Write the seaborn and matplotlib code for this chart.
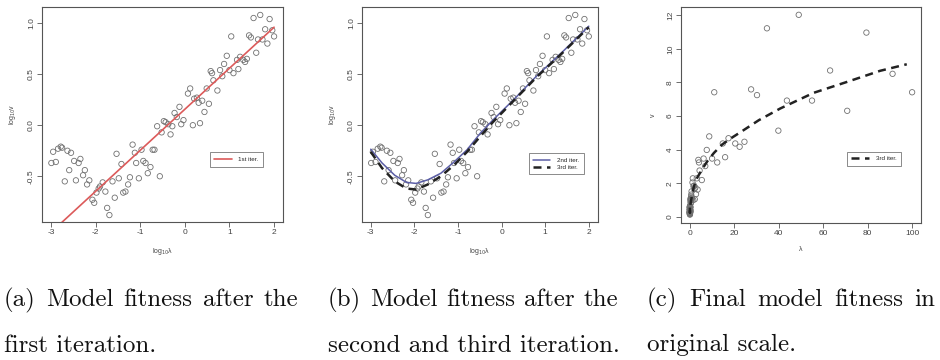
import matplotlib
matplotlib.use('Agg')

import matplotlib.pyplot as plt
import seaborn as sns
import pandas as pd
import numpy as np

# observations on log10 scale (same points in all three panels)
log_lam = [-2.99, -2.89, -2.95, -2.84, -2.78, -2.75, -2.69, -2.63, -2.55, -2.59,
           -2.48, -2.44, -2.38, -2.34, -2.28, -2.24, -2.19, -2.14, -2.07, -2.03,
           -1.98, -1.93, -1.90, -1.84, -1.78, -1.74, -1.69, -1.62, -1.57, -1.53,
           -1.48, -1.42, -1.38, -1.33, -1.27, -1.23, -1.17, -1.12, -1.09, -1.03,
           -0.97, -0.93, -0.88, -0.83, -0.77, -0.72, -0.68, -0.62, -0.56, -0.52,
           -0.47, -0.43, -0.37, -0.32, -0.28, -0.23, -0.18, -0.12, -0.08, -0.03,
           0.07, 0.12, 0.18, 0.21, 0.27, 0.31, 0.34, 0.39, 0.44, 0.49,
           0.54, 0.58, 0.61, 0.64, 0.73, 0.79, 0.84, 0.88, 0.94, 1.00,
           1.04, 1.09, 1.17, 1.20, 1.24, 1.31, 1.35, 1.39, 1.44, 1.48,
           1.54, 1.60, 1.64, 1.69, 1.74, 1.80, 1.85, 1.90, 1.96, 2.00]
log_v = [-0.37, -0.36, -0.26, -0.23, -0.21, -0.22, -0.55, -0.25, -0.27, -0.44,
         -0.35, -0.54, -0.37, -0.33, -0.49, -0.44, -0.58, -0.54, -0.73, -0.76,
         -0.66, -0.62, -0.60, -0.56, -0.65, -0.81, -0.88, -0.55, -0.71, -0.28,
         -0.52, -0.38, -0.66, -0.65, -0.58, -0.51, -0.19, -0.27, -0.37, -0.52,
         -0.24, -0.35, -0.37, -0.47, -0.41, -0.24, -0.24, -0.01, -0.50, -0.07,
         0.04, 0.03, 0.01, -0.09, -0.01, 0.12, 0.08, 0.18, 0.01, 0.05,
         0.31, 0.36, 0.00, 0.26, 0.27, 0.22, 0.02, 0.24, 0.13, 0.36,
         0.21, 0.53, 0.51, 0.44, 0.34, 0.54, 0.48, 0.60, 0.68, 0.54,
         0.87, 0.51, 0.64, 0.55, 0.67, 0.64, 0.62, 0.65, 0.88, 0.86,
         1.05, 0.71, 0.84, 1.08, 0.84, 0.94, 0.80, 1.04, 0.93, 0.87]

# 1st iteration: straight line fit
fit1_x = [-3.0, 2.0]
fit1_y = [-1.05, 0.96]

# 2nd and 3rd iteration curves (log scale)
fit23_x = [-3.0, -2.74, -2.45, -2.18, -1.96, -1.69, -1.39, -1.09, -0.79, -0.49,
           -0.2, 0.3, 0.8, 1.4, 2.0]
fit2_y = [-0.235, -0.37, -0.49, -0.56, -0.57, -0.535, -0.47, -0.36, -0.24, -0.08,
          0.05, 0.26, 0.48, 0.72, 0.97]
fit3_y = [-0.26, -0.42, -0.55, -0.62, -0.63, -0.58, -0.50, -0.39, -0.26, -0.11,
          0.03, 0.25, 0.47, 0.71, 0.96]

# 3rd iteration curve on original scale
fit3_lam = [0.001, 0.006, 0.1, 0.3, 1.0, 1.8, 3.3, 5.6, 7.8, 10.8, 14.5, 18.3,
            23.5, 31.0, 40.7, 55.7, 70.7, 85.6, 97.6]
fit3_v = [0.55, 0.23, 0.55, 0.78, 1.32, 1.80, 2.33, 2.85, 3.30, 3.80, 4.30, 4.66,
          5.10, 5.75, 6.45, 7.38, 8.03, 8.69, 9.08]

captions = [("(a) Model fitness after the", "first iteration."),
            ("(b) Model fitness after the", "second and third iteration."),
            ("(c) Final model fitness in", "original scale.")]

sns.set_theme(style='white')
plt.rcParams['font.family'] = ['Liberation Sans', 'DejaVu Sans']
plt.rcParams['axes.unicode_minus'] = False

W, H = 940, 360
fig = plt.figure(figsize=(W / 100, H / 100), dpi=100)

GRAY = '#555555'
PT_KW = dict(marker='o', s=15, facecolors='none', edgecolor='#707070', linewidth=0.6)


def style_axes(ax, xlabel, ylabel):
    for sp in ax.spines.values():
        sp.set_color(GRAY)
        sp.set_linewidth(0.8)
    ax.tick_params(axis='both', direction='out', length=3.5, width=0.6, color=GRAY,
                   labelsize=6, labelcolor='#444444', pad=1.5,
                   bottom=True, left=True)
    for lab in ax.get_yticklabels():
        lab.set_rotation(90)
        lab.set_va('center')
    ax.set_xlabel(xlabel, fontsize=5, color='#444444', labelpad=7)
    ax.set_ylabel(ylabel, fontsize=5, color='#444444', labelpad=7)


def legend(ax, x, y):
    leg = ax.legend(loc='upper left', bbox_to_anchor=(x, y), fontsize=4.5,
                    frameon=True, fancybox=False, framealpha=1, edgecolor='#777777',
                    borderpad=0.7, handlelength=2.8, handletextpad=1.1,
                    labelspacing=0.3)
    leg.get_frame().set_linewidth(0.6)


def ax_rect(x0, x1, y0, y1):
    return [x0 / W, 1 - y1 / H, (x1 - x0) / W, (y1 - y0) / H]


df = pd.DataFrame({'x': log_lam, 'y': log_v})
df['lam'] = 10 ** df['x']
df['v'] = 10 ** df['y']

# (a)
ax1 = fig.add_axes(ax_rect(42, 283, 7, 222))
sns.scatterplot(data=df, x='x', y='y', ax=ax1, **PT_KW)
sns.lineplot(x=fit1_x, y=fit1_y, ax=ax1, color='#dc5a5a', linewidth=1.2,
             label='1st iter.', sort=False, estimator=None)
ax1.set_xlim(-3.2, 2.2)
ax1.set_ylim(-0.948, 1.158)
ax1.set_xticks([-3, -2, -1, 0, 1, 2])
ax1.set_yticks([-0.5, 0.0, 0.5, 1.0])
ax1.set_yticklabels(['-0.5', '0.0', '0.5', '1.0'])
style_axes(ax1, 'log$_{10}$λ', 'log$_{10}$v')
legend(ax1, 0.683, 0.338)

# (b)
ax2 = fig.add_axes(ax_rect(362, 597.5, 7, 222))
sns.scatterplot(data=df, x='x', y='y', ax=ax2, **PT_KW)
sns.lineplot(x=fit23_x, y=fit2_y, ax=ax2, color='#5b5ea6', linewidth=1.1,
             label='2nd iter.', sort=False, estimator=None)
sns.lineplot(x=fit23_x, y=fit3_y, ax=ax2, color='#222222', linewidth=1.8,
             linestyle=(0, (3.2, 2.2)), label='3rd iter.', sort=False, estimator=None)
ax2.set_xlim(-3.2, 2.2)
ax2.set_ylim(-0.948, 1.158)
ax2.set_xticks([-3, -2, -1, 0, 1, 2])
ax2.set_yticks([-0.5, 0.0, 0.5, 1.0])
ax2.set_yticklabels(['-0.5', '0.0', '0.5', '1.0'])
style_axes(ax2, 'log$_{10}$λ', 'log$_{10}$v')
legend(ax2, 0.694, 0.335)

# (c)
ax3 = fig.add_axes(ax_rect(681, 921, 7.3, 222.7))
sns.scatterplot(data=df, x='lam', y='v', ax=ax3, **PT_KW)
sns.lineplot(x=fit3_lam, y=fit3_v, ax=ax3, color='#222222', linewidth=1.8,
             linestyle=(0, (3.2, 2.2)), label='3rd iter.', sort=False, estimator=None)
ax3.set_xlim(-4, 104)
ax3.set_ylim(-0.35, 12.47)
ax3.set_xticks([0, 20, 40, 60, 80, 100])
ax3.set_yticks([0, 2, 4, 6, 8, 10, 12])
style_axes(ax3, 'λ', 'v')
legend(ax3, 0.679, 0.345)

# captions, first line justified to the column width like in LaTeX
renderer = fig.canvas.get_renderer()
cols = [(4, 298), (328, 618), (647, 935)]
CAP_KW = dict(family='cmr10', size=18.0, color='#111111', va='baseline')
for (first, second), (c0, c1) in zip(captions, cols):
    words = first.split()
    texts = [fig.text(0, 1 - 306.5 / H, w, **CAP_KW) for w in words]
    widths = [t.get_window_extent(renderer).width for t in texts]
    gap = ((c1 - c0) - sum(widths)) / (len(words) - 1)
    xp = c0
    for t, w in zip(texts, widths):
        t.set_x(xp / W)
        xp += w + gap
    fig.text(c0 / W, 1 - 351.5 / H, second, **CAP_KW)

fig.savefig('out.png', dpi=100)
